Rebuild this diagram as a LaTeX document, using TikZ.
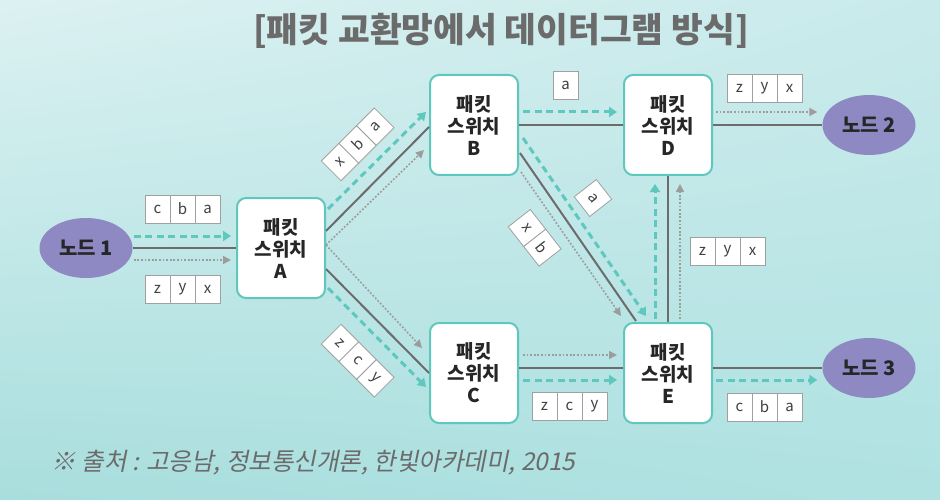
\documentclass[tikz,border=0pt]{standalone}
\usepackage{fontspec}
\setmainfont{Noto Sans CJK KR}
\newfontfamily\sourcefont[FakeSlant=0.2]{Noto Sans CJK KR}
\usepackage{xcolor}
\usetikzlibrary{shapes, arrows.meta, positioning, calc, shadings}

\definecolor{bgul}{HTML}{DCF1F2}
\definecolor{bgur}{HTML}{C9EAEB}
\definecolor{bgll}{HTML}{A8DEDD}
\definecolor{bglr}{HTML}{B0E2E2}
\definecolor{tealedge}{HTML}{5FC8BE}
\definecolor{hostfill}{HTML}{8F89C3}
\definecolor{wiregray}{HTML}{6C6C6C}
\definecolor{dotgray}{HTML}{9C9C9C}
\definecolor{cellline}{HTML}{A0A0A0}
\definecolor{titlegray}{HTML}{6B6B6B}

\tikzset{
  switch/.style={draw=tealedge, line width=2pt, fill=white, rounded corners=9pt,
    minimum width=88pt, minimum height=100pt, align=center, text=black!85,
    font=\fontsize{19}{22}\selectfont\bfseries},
  host/.style={ellipse, fill=hostfill, minimum width=93pt, minimum height=60pt,
    text=black!85, font=\fontsize{20}{22}\selectfont\bfseries},
  cell/.style={draw=cellline, line width=0.8pt, fill=white, minimum width=25pt,
    minimum height=28pt, inner sep=0pt, text=black!75, font=\fontsize{15}{15}\selectfont},
  wire/.style={draw=wiregray, line width=2pt},
  flow/.style={draw=tealedge, line width=3pt, dash pattern=on 7pt off 4.5pt,
    -{Triangle[length=8pt,width=10pt]}},
  flowdot/.style={draw=dotgray, line width=1.6pt, dash pattern=on 1.8pt off 1.8pt,
    -{Triangle[length=8pt,width=8pt]}},
}

\begin{document}
\begin{tikzpicture}[x=1pt,y=1pt]
  % background
  \useasboundingbox (0,-500) rectangle (940,0);
  \shade[upper left=bgul, upper right=bgur, lower left=bgll, lower right=bglr]
    (0,-500) rectangle (940,0);

  \node[text=titlegray, font=\fontsize{34.5}{34.5}\selectfont\bfseries] (title) at (501,-31)
    {[패킷 교환망에서 데이터그램 방식]};

  % hosts and switches
  \node[host] (n1) at (86,-248) {노드 1};
  \node[host] (n2) at (869,-125) {노드 2};
  \node[host] (n3) at (869,-368) {노드 3};

  \node[switch] (A) at (281,-248) {패킷\\스위치\\A};
  \node[switch] (B) at (474,-125) {패킷\\스위치\\B};
  \node[switch] (C) at (474,-373) {패킷\\스위치\\C};
  \node[switch] (D) at (668,-125) {패킷\\스위치\\D};
  \node[switch] (E) at (668,-373) {패킷\\스위치\\E};

  % links
  \draw[wire] (n1) -- (A);
  \draw[wire] ([yshift=17]A.east) -- ([yshift=-2]B.west);
  \draw[wire] ([yshift=-21]A.east) -- (C.west);
  \draw[wire] (B) -- (D);
  \draw[wire] ([xshift=1,yshift=-28]B.east) -- ([xshift=13,yshift=1]E.north west);
  \draw[wire] ([yshift=5]C.east) -- ([yshift=5]E.west);
  \draw[wire] (E) -- (D);
  \draw[wire] (D) -- (n2);
  \draw[wire] ([yshift=5]E.east) -- (n3.west);

  % packets a, b, c (teal)
  \draw[flow] ([xshift=1,yshift=12]n1.east) -- ([xshift=-5,yshift=12]A.west);
  \draw[flow] ([xshift=2,yshift=39]A.east) -- ([xshift=-3,yshift=13]B.west);
  \draw[flow] ([xshift=2,yshift=-40]A.east) -- ([xshift=-3,yshift=-14]C.west);
  \draw[flow] ([xshift=4,yshift=13]B.east) -- ([xshift=-6,yshift=13]D.west);
  \draw[flow] ([xshift=4,yshift=-13]B.east) -- ([xshift=23,yshift=6]E.north west);
  \draw[flow] ([xshift=4,yshift=-7]C.east) -- ([xshift=-6,yshift=-7]E.west);
  \draw[flow] ([xshift=-13,yshift=3]E.north) -- ([xshift=-13,yshift=-8]D.south);
  \draw[flow] ([xshift=3,yshift=-7]E.east) -- ([xshift=-5,yshift=-12]n3.west);

  % packets x, y, z (gray)
  \draw[flowdot] ([xshift=1,yshift=-12]n1.east) -- ([xshift=-5,yshift=-12]A.west);
  \draw[flowdot] ([yshift=3]A.east) -- ([xshift=-5,yshift=-25]B.west);
  \draw[flowdot] ([yshift=3]A.east) -- ([xshift=-7,yshift=25]C.west);
  \draw[flowdot] ([xshift=2,yshift=-47]B.east) -- ([xshift=-2,yshift=6]E.north west);
  \draw[flowdot] ([xshift=4,yshift=18]C.east) -- ([xshift=-6,yshift=18]E.west);
  \draw[flowdot] ([xshift=12,yshift=3]E.north) -- ([xshift=12,yshift=-8]D.south);
  \draw[flowdot] ([xshift=3,yshift=13]D.east) -- ([xshift=-5,yshift=13]n2.west);

  % packet labels
  \foreach \pk/\px/\py/\rot/\chars in {
      p1/157.5/-209/0/{c,b,a}, p2/157.5/-289.5/0/{z,y,x},
      p3/340/-162/45/{x,b,a}, p4/340/-343/-45/{z,c,y},
      p5/565.5/-85/0/{a}, p6/593/-198/-52/{a}, p7/527/-228/-52/{x,b},
      p8/544.5/-406.5/0/{z,c,y}, p9/702.5/-251/0/{z,y,x},
      p10/739.5/-88/0/{z,y,x}, p11/739.5/-407/0/{c,b,a}} {
    \begin{scope}[shift={(\px,\py)}, rotate=\rot, transform shape]
      \foreach \ch [count=\i] in \chars
        \node[cell] (\pk-\i) at ({(\i-1)*25},0) {\ch};
    \end{scope}
  }

  \node[anchor=west, text=titlegray, font=\fontsize{24.5}{24.5}\selectfont\sourcefont] (src)
    at (48,-463) {※ 출처 : 고응남, 정보통신개론, 한빛아카데미, 2015};
\end{tikzpicture}
\end{document}
